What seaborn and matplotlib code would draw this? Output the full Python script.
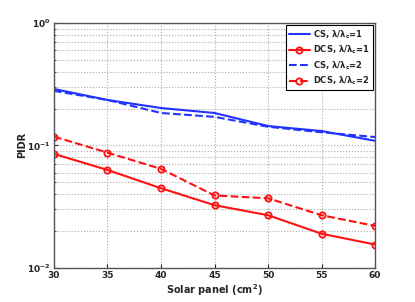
import numpy as np
import pandas as pd
import matplotlib
matplotlib.use('Agg')
import matplotlib.pyplot as plt
import seaborn as sns

panel = [30, 35, 40, 45, 50, 55, 60]
cs_1 = [0.289, 0.235, 0.202, 0.184, 0.144, 0.131, 0.109]
dcs_1 = [0.0853, 0.063, 0.0447, 0.0325, 0.0269, 0.019, 0.0155]
cs_2 = [0.279, 0.235, 0.184, 0.171, 0.142, 0.128, 0.117]
dcs_2 = [0.118, 0.0873, 0.0643, 0.039, 0.037, 0.0269, 0.022]

labels = [r'CS, λ/λ$_\mathbf{c}$=1', r'DCS, λ/λ$_\mathbf{c}$=1',
          r'CS, λ/λ$_\mathbf{c}$=2', r'DCS, λ/λ$_\mathbf{c}$=2']
series = [cs_1, dcs_1, cs_2, dcs_2]
colors = ['#2233ff', '#ff1111', '#2233ff', '#ff1111']
styles = ['-', '-', '--', '--']
markers = [None, 'o', None, 'o']

sns.set_style('ticks')
plt.rcParams['font.family'] = ['DejaVu Sans']
plt.rcParams['mathtext.default'] = 'bf'

fig = plt.figure(figsize=(4.15, 3.02), dpi=100)
ax = fig.add_axes([0.130, 0.113, 0.774, 0.811])

for lab, vals, c, ls, m in zip(labels, series, colors, styles, markers):
    df = pd.DataFrame({'x': panel, 'y': vals})
    sns.lineplot(data=df, x='x', y='y', ax=ax, color=c, linestyle=ls, marker=m,
                 markersize=4.5, markerfacecolor='none', markeredgewidth=1.3,
                 markeredgecolor=c, linewidth=1.5, label=lab)

ax.set_yscale('log')
ax.set_ylim(0.01, 1)
ax.set_xlim(30, 60)
ax.set_xticks(panel)
ax.grid(True, which='major', linestyle=':', color='#aaaaaa', linewidth=0.8)
ax.grid(True, which='minor', axis='y', linestyle=':', color='#aaaaaa', linewidth=0.8)
ax.tick_params(which='both', direction='in', labelsize=6.5, length=3, pad=2.5)
ax.tick_params(which='minor', length=1.5)
for lbl in ax.get_xticklabels() + ax.get_yticklabels():
    lbl.set_fontweight('bold')
for s in ax.spines.values():
    s.set_color('#555555')
    s.set_linewidth(1.0)
ax.set_xlabel(r'Solar panel (cm$^2$)', fontsize=7, fontweight='bold', labelpad=1)
ax.set_ylabel('PIDR', fontsize=7, fontweight='bold')
ax.yaxis.set_label_coords(-0.085, 0.5)

leg = ax.legend(loc='upper right', fontsize=6, frameon=True, fancybox=False,
                edgecolor='black', framealpha=1, handlelength=2.6,
                handletextpad=0.3, borderaxespad=0.3, labelspacing=0.35,
                borderpad=0.35)
leg.get_frame().set_linewidth(0.8)
for t in leg.get_texts():
    t.set_fontweight('bold')

fig.savefig('out.png', dpi=100)
